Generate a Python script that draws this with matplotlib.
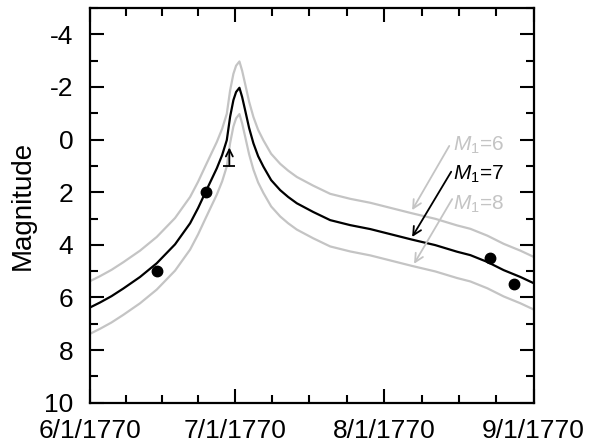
import matplotlib
matplotlib.use('Agg')
from matplotlib import pyplot as plt
from matplotlib.ticker import FixedLocator
import numpy as np

plt.rcParams['font.family'] = ['Liberation Sans', 'DejaVu Sans']
plt.rcParams['mathtext.fontset'] = 'custom'
plt.rcParams['mathtext.rm'] = 'Liberation Sans'
plt.rcParams['mathtext.it'] = 'Liberation Sans:italic'

# days since 6/1/1770 and magnitude of the M1=7 model curve
model_day = [0.00, 2.08, 4.46, 6.91, 10.38, 13.84, 17.64, 20.76, 22.42, 23.87,
             25.11, 26.30, 27.40, 28.37, 29.06, 29.74, 30.30, 30.99, 31.55, 32.17,
             33.00, 33.89, 34.87, 35.97, 37.57, 39.44, 41.10, 42.90, 46.29, 49.81,
             53.96, 58.12, 61.58, 66.77, 71.61, 76.11, 78.87, 82.40, 85.78, 89.25,
             92.05]
model_mag = [6.38, 6.19, 5.95, 5.66, 5.22, 4.70, 3.98, 3.18, 2.60, 2.03,
             1.55, 1.09, 0.59, 0.02, -0.87, -1.50, -1.81, -1.97, -1.62, -1.12,
             -0.44, 0.14, 0.63, 1.03, 1.54, 1.92, 2.18, 2.42, 2.75, 3.06,
             3.25, 3.40, 3.56, 3.80, 4.01, 4.26, 4.39, 4.65, 4.96, 5.22,
             5.46]
m1_offsets = [-1, 0, 1]   # M1 = 6, 7, 8

obs_day = [14, 24, 83, 88]
obs_mag = [5.0, 2.0, 4.5, 5.5]

limit_day = [28.9]
limit_mag = [1.0]

tick_days = [0, 30, 61, 92]
tick_labels = ['6/1/1770', '7/1/1770', '8/1/1770', '9/1/1770']

gray = '#c4c4c4'

fig = plt.figure(figsize=(5.9, 4.47), dpi=100)
ax = fig.add_axes([0.1525, 0.099, 0.752, 0.883])

mag = np.array(model_mag)
for off in m1_offsets:
    ax.plot(model_day, mag + off, color='black' if off == 0 else gray, lw=1.6,
            zorder=3 if off == 0 else 2, solid_joinstyle='round')

ax.plot(obs_day, obs_mag, 'o', color='black', ms=7.5, zorder=4)

# lower limit
ax.plot(limit_day, limit_mag, '_', color='black', ms=8, mew=1.3)
for d, m in zip(limit_day, limit_mag):
    ax.annotate('', xy=(d, m - 0.7), xytext=(d, m),
                arrowprops=dict(arrowstyle='->,head_length=0.5,head_width=0.25',
                                color='black', lw=1.3, shrinkA=0, shrinkB=0))

# labels with arrows
labels = [('$M_1$=6', gray, 0.42, (74.5, 0.24), (66.8, 2.68)),
          ('$M_1$=7', 'black', 1.54, (74.9, 1.22), (66.8, 3.70)),
          ('$M_1$=8', gray, 2.68, (75.1, 2.26), (67.2, 4.72))]
for txt, c, ty, tail, head in labels:
    ax.text(75.3, ty, txt, color=c, fontsize=15, ha='left', va='baseline')
    ax.annotate('', xy=head, xytext=tail,
                arrowprops=dict(arrowstyle='->,head_length=0.6,head_width=0.3',
                                color=c, lw=1.3, shrinkA=0, shrinkB=0))

ax.set_xlim(0, 92)
ax.set_ylim(10, -5)
ax.xaxis.set_major_locator(FixedLocator(tick_days))
ax.set_xticklabels(tick_labels)
minor_x = []
for a, b in zip(tick_days[:-1], tick_days[1:]):
    minor_x += [a + (b - a) * k / 4 for k in (1, 2, 3)]
ax.xaxis.set_minor_locator(FixedLocator(minor_x))
ax.set_yticks(np.arange(-4, 11, 2))
ax.set_yticklabels([str(v) for v in range(-4, 11, 2)])
ax.yaxis.set_minor_locator(FixedLocator(np.arange(-5, 10, 2)))

ax.tick_params(which='both', direction='in', top=True, right=True, width=1.5,
               labelsize=19)
ax.tick_params(which='major', length=10)
ax.tick_params(which='minor', length=6)
ax.tick_params(axis='y', pad=12)
ax.tick_params(axis='x', pad=12)
for s in ax.spines.values():
    s.set_linewidth(1.6)

ax.set_ylabel('Magnitude', fontsize=20, labelpad=6)

fig.savefig('out.png', dpi=100)
